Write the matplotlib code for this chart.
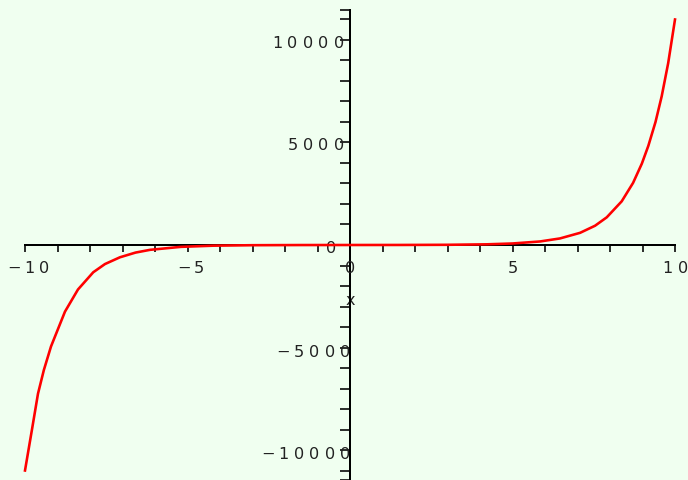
import matplotlib
matplotlib.use("Agg")
import matplotlib.pyplot as plt
import numpy as np

# curve vertices (x, y)
x_vals = [-10.0, -9.78, -9.6, -9.42, -9.2, -8.77, -8.37, -7.9, -7.54, -7.08,
          -6.6, -6.15, -5.2, -4.2, -3.0, -1.5, 0.0, 1.5, 3.0, 4.2, 5.0, 5.85,
          6.46, 7.08, 7.54, 7.9, 8.36, 8.71, 8.98, 9.18, 9.4, 9.59, 9.79, 10.0]
y_vals = [-11000, -8950, -7250, -6100, -4950, -3250, -2170, -1330, -930, -600,
          -370, -235, -90, -33, -10, -2, 0, 2, 10, 33, 74, 173,
          320, 594, 940, 1350, 2130, 3030, 3970, 4840, 6000, 7250, 8870, 11000]

x_tick_labels = ["\u221210", "\u22125", "0", "5", "10"]
x_tick_pos = [-10, -5, 0, 5, 10]
y_tick_labels = ["10000", "5000", "0", "\u22125000", "\u221210000"]
y_tick_pos = [10000, 5000, 0, -5000, -10000]

BG = "#F0FFF0"
DPI = 100
PX = 72.0 / DPI  # points per pixel

fig = plt.figure(figsize=(6.88, 4.8), dpi=DPI, facecolor=BG)
ax = fig.add_axes([25 / 688, 0.0, 650 / 688, 470 / 480], facecolor=BG)

YLIM = 11463
ax.set_xlim(-10, 10)
ax.set_ylim(-YLIM, YLIM)

ax.plot(x_vals, y_vals, color="#FF0000", lw=2.6 * PX, clip_on=False,
        solid_joinstyle="miter", zorder=5)

for side in ("top", "right"):
    ax.spines[side].set_visible(False)
ax.spines["left"].set_position(("data", 0))
ax.spines["bottom"].set_position(("data", 0))
for side in ("left", "bottom"):
    ax.spines[side].set_linewidth(2.0 * PX)
    ax.spines[side].set_color("black")
    ax.spines[side].set_zorder(3)

ax.set_xticks(np.arange(-10, 11, 1))
yt = list(np.arange(-11000, 11001, 1000)) + [-YLIM, YLIM]
ax.set_yticks(yt)
ax.tick_params(axis="x", direction="out", length=7 * PX, width=1.6 * PX,
               labelbottom=False, color="black")
ax.tick_params(axis="y", direction="out", length=10 * PX, width=1.6 * PX,
               labelleft=False, color="black")

FS = 11.6
PITCH = 15.5  # px between character centres


def spaced(xd, yd, s, dx_px, dy_px, anchor="center"):
    """Draw a string one character at a time with wide letter spacing.

    dx_px: horizontal offset (px) of the group anchor from (xd, yd)
    dy_px: baseline offset (px) from (xd, yd), positive upward
    anchor: 'center' centres the group, 'right' puts the last glyph's
            centre at the anchor.
    """
    n = len(s)
    for i, ch in enumerate(s):
        if anchor == "center":
            cx = dx_px + (i - (n - 1) / 2) * PITCH
        else:
            cx = dx_px - (n - 1 - i) * PITCH
        ax.annotate(ch, xy=(xd, yd), xytext=(cx * PX, dy_px * PX),
                    textcoords="offset points", ha="center", va="baseline",
                    fontsize=FS, color="#222222", annotation_clip=False,
                    zorder=4)


for pos, lab in zip(x_tick_pos, x_tick_labels):
    shift = 4 if pos < 0 else 0
    spaced(pos, 0, lab, shift, -28)

for pos, lab in zip(y_tick_pos, y_tick_labels):
    if pos == 0:
        spaced(0, 0, lab, -19, -8, anchor="right")
    elif pos > 0:
        spaced(0, pos, lab, -11, -8, anchor="right")
    else:
        spaced(0, pos, lab, -4.5, -9, anchor="right")

ax.annotate("x", xy=(0, 0), xytext=(0, -60 * PX), textcoords="offset points",
            ha="center", va="baseline", fontsize=FS, color="#222222",
            annotation_clip=False)

fig.savefig("out.png", dpi=DPI, facecolor=BG)
